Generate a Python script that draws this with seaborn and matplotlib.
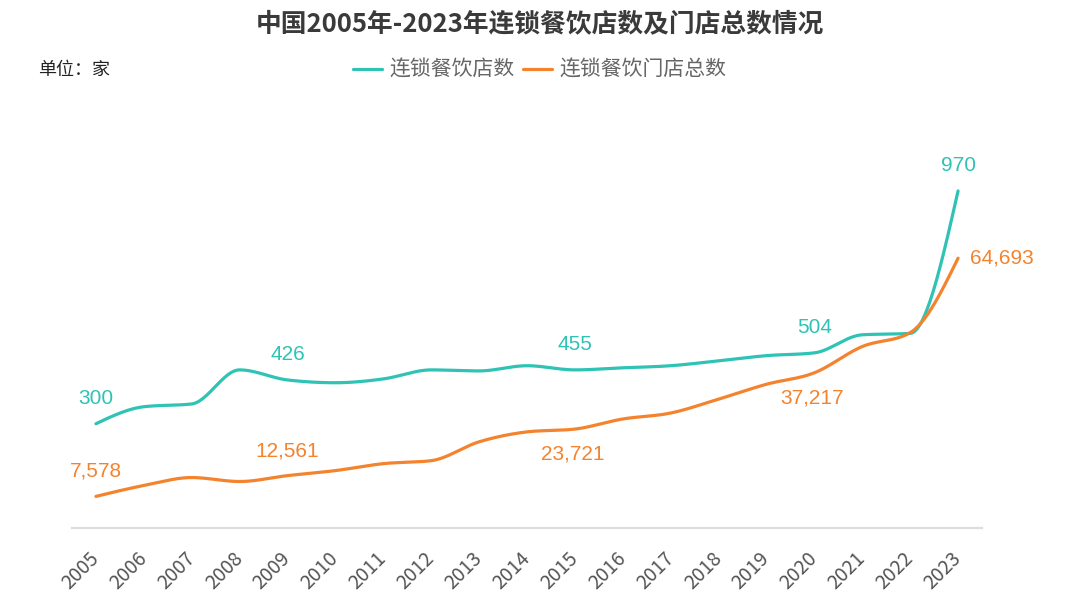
import numpy as np
import pandas as pd
import matplotlib
matplotlib.use('Agg')
import matplotlib.pyplot as plt
from matplotlib.lines import Line2D
import seaborn as sns

#%% data

years = [str(y) for y in range(2005, 2024)]
chain_stores = [300, 349, 357, 455, 426, 418, 429, 455, 452, 467, 455, 461,
                467, 481, 496, 504, 556, 560, 970]
total_outlets = [7578, 10196, 12100, 11148, 12561, 13766, 15432, 16146, 20668,
                 23048, 23721, 26142, 27570, 30902, 34472, 37217, 43516, 46848,
                 64693]
label_years = ['2005', '2009', '2015', '2020', '2023']

name1 = '连锁餐饮店数'
name2 = '连锁餐饮门店总数'
teal = '#2EC3B4'
orange = '#F4832E'

#%% style

sns.set_theme(style='white')
plt.rcParams['font.family'] = ['Noto Sans CJK SC', 'DejaVu Sans']
num_font = ['Liberation Sans', 'DejaVu Sans']

fig = plt.figure(figsize=(10.8, 6.13), dpi=100)
ax = fig.add_axes([72/1080, 1 - 528/613, 910/1080, 417/613])
ax2 = ax.twinx()

xs = np.arange(len(years))
ax.set_xlim(-0.5, len(years) - 0.5)
ax.set_ylim(0, 1200)
ax2.set_ylim(0, 100000)


def smooth_curve(x, y, n=30):
    # monotone cubic (steffen) drawn as bezier segments
    x = np.asarray(x, float)
    y = np.asarray(y, float)
    h = np.diff(x)
    s = np.diff(y) / h
    t = np.zeros(len(x))
    for i in range(1, len(x) - 1):
        p = (s[i-1] * h[i] + s[i] * h[i-1]) / (h[i-1] + h[i])
        t[i] = (np.sign(s[i-1]) + np.sign(s[i])) * min(abs(s[i-1]), abs(s[i]), 0.5 * abs(p))
    t[0] = (3 * s[0] - t[1]) / 2
    t[-1] = (3 * s[-1] - t[-2]) / 2
    px, py = [x[0]], [y[0]]
    u = np.linspace(0, 1, n)[1:]
    for i in range(len(x) - 1):
        d = h[i] / 3
        bx = [x[i], x[i] + d, x[i+1] - d, x[i+1]]
        by = [y[i], y[i] + d * t[i], y[i+1] - d * t[i+1], y[i+1]]
        w = [(1-u)**3, 3*(1-u)**2*u, 3*(1-u)*u**2, u**3]
        px.extend(sum(wk * bk for wk, bk in zip(w, bx)))
        py.extend(sum(wk * bk for wk, bk in zip(w, by)))
    return pd.DataFrame({'x': px, 'y': py})


c1 = smooth_curve(xs, chain_stores)
c2 = smooth_curve(xs, total_outlets)

sns.lineplot(data=c1, x='x', y='y', sort=False, estimator=None, ax=ax,
             color=teal, linewidth=2.3)
sns.lineplot(data=c2, x='x', y='y', sort=False, estimator=None, ax=ax2,
             color=orange, linewidth=2.3)

#%% labels

for yr in label_years:
    i = years.index(yr)
    ax.annotate(f'{chain_stores[i]:,}', (i, chain_stores[i]), xytext=(0, 25),
                textcoords='offset pixels', ha='center', va='center',
                fontsize=15, color=teal, family=num_font)
    if yr == '2023':
        ax2.annotate(f'{total_outlets[i]:,}', (i, total_outlets[i]), xytext=(12, 0),
                     textcoords='offset pixels', ha='left', va='center',
                     fontsize=15, color=orange, family=num_font)
    elif yr in ('2015', '2020'):
        ax2.annotate(f'{total_outlets[i]:,}', (i, total_outlets[i]), xytext=(-2, -25),
                     textcoords='offset pixels', ha='center', va='center',
                     fontsize=15, color=orange, family=num_font)
    else:
        ax2.annotate(f'{total_outlets[i]:,}', (i, total_outlets[i]), xytext=(0, 25),
                     textcoords='offset pixels', ha='center', va='center',
                     fontsize=15, color=orange, family=num_font)

#%% axes cosmetics

for a in (ax, ax2):
    for s in a.spines.values():
        s.set_visible(False)
    a.set_yticks([])
    a.set_ylabel('')
    a.set_xlabel('')
    a.grid(False)

ax.spines['bottom'].set_visible(True)
ax.spines['bottom'].set_color('#DDDDDD')
ax.spines['bottom'].set_linewidth(1.6)

ax.set_xticks(xs)
ax.set_xticklabels(years, rotation=45, ha='right', va='center',
                   rotation_mode='anchor', fontsize=14, color='#555555')
ax.tick_params(axis='x', length=0, pad=20)
ax.set_xlim(-0.5, len(years) - 0.5)

fig.text(0.5, 1 - 24/613, '中国2005年-2023年连锁餐饮店数及门店总数情况',
         ha='center', va='center', fontsize=18.5, fontweight='bold', color='#3A3A3A')
fig.text(38/1080, 1 - 70/613, '单位：家', ha='left', va='center',
         fontsize=13, color='#222222')

handles = [Line2D([], [], color=teal, linewidth=2.3),
           Line2D([], [], color=orange, linewidth=2.3)]
fig.legend(handles, [name1, name2], loc='center', bbox_to_anchor=(0.5, 1 - 70/613),
           ncol=2, frameon=False, fontsize=15, labelcolor='#666666',
           handlelength=1.4, handletextpad=0.35, columnspacing=0.4)

fig.savefig('out.png', dpi=100)
